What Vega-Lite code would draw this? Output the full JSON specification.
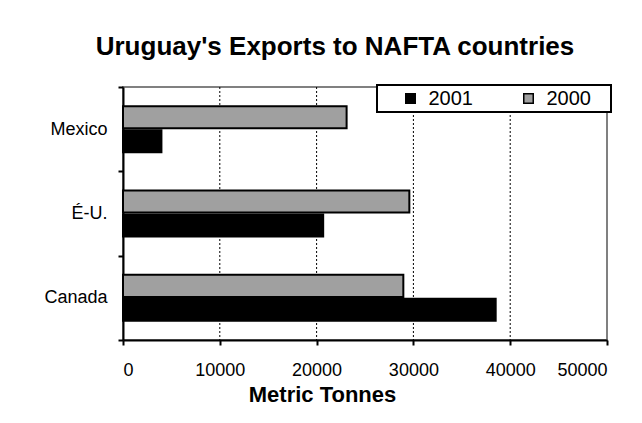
{
  "$schema": "https://vega.github.io/schema/vega-lite/v6.json",
  "width": 484,
  "height": 253,
  "autosize": {"type": "none"},
  "padding": {"left": 123, "top": 87, "right": 35, "bottom": 83},
  "background": "white",
  "title": {
    "text": "Uruguay's Exports to NAFTA countries",
    "font": "Liberation Sans",
    "fontSize": 26,
    "fontWeight": "bold",
    "color": "black",
    "anchor": "middle",
    "dx": -30,
    "offset": 18
  },
  "datasets": {
    "exports": [
      {"country": "Mexico", "year": "2000", "tonnes": 23100},
      {"country": "Mexico", "year": "2001", "tonnes": 3970},
      {"country": "É-U.", "year": "2000", "tonnes": 29580},
      {"country": "É-U.", "year": "2001", "tonnes": 20680},
      {"country": "Canada", "year": "2000", "tonnes": 28960},
      {"country": "Canada", "year": "2001", "tonnes": 38500}
    ],
    "gridlines": [
      {"tonnes": 10000},
      {"tonnes": 20000},
      {"tonnes": 30000},
      {"tonnes": 40000}
    ]
  },
  "layer": [
    {
      "data": {"name": "gridlines"},
      "mark": {"type": "rule", "color": "black", "strokeWidth": 1, "strokeDash": [2, 2]},
      "encoding": {
        "x": {"field": "tonnes", "type": "quantitative"}
      }
    },
    {
      "data": {"name": "exports"},
      "mark": {"type": "bar", "stroke": "black", "strokeWidth": 2},
      "encoding": {
        "y": {
          "field": "country",
          "type": "nominal",
          "sort": ["Mexico", "É-U.", "Canada"],
          "scale": {"paddingInner": 0, "paddingOuter": 0},
          "axis": {
            "title": null,
            "tickBand": "extent",
            "domainColor": "black",
            "domainWidth": 2,
            "tickColor": "black",
            "tickWidth": 2,
            "tickSize": 5,
            "labelFont": "Liberation Sans",
            "labelFontSize": 18,
            "labelColor": "black",
            "labelPadding": 11
          }
        },
        "yOffset": {
          "field": "year",
          "type": "nominal",
          "sort": ["2000", "2001"],
          "scale": {"paddingInner": 0.08, "paddingOuter": 0.8}
        },
        "x": {
          "field": "tonnes",
          "type": "quantitative",
          "scale": {"domain": [0, 50000], "nice": false},
          "axis": {
            "title": "Metric Tonnes",
            "titleFont": "Liberation Sans",
            "titleFontSize": 22,
            "titleFontWeight": "bold",
            "titleColor": "black",
            "titlePadding": 5,
            "titleX": 199,
            "titleAlign": "center",
            "values": [0, 10000, 20000, 30000, 40000, 50000],
            "format": "d",
            "grid": false,
            "domainColor": "black",
            "domainWidth": 2,
            "tickColor": "black",
            "tickWidth": 2,
            "tickSize": 5,
            "labelFont": "Liberation Sans",
            "labelFontSize": 18,
            "labelColor": "black",
            "labelPadding": 16
          }
        },
        "color": {
          "field": "year",
          "type": "nominal",
          "scale": {"domain": ["2001", "2000"], "range": ["black", "#A0A0A0"]},
          "legend": {
            "title": "\u00a0",
            "titleOrient": "right",
            "titlePadding": 17,
            "titleFontSize": 20,
            "orient": "none",
            "legendX": 254,
            "legendY": -2,
            "direction": "horizontal",
            "strokeColor": "black",
            "fillColor": "white",
            "padding": 3.5,
            "symbolOffset": 20,
            "symbolType": "square",
            "symbolSize": 90,
            "symbolStrokeColor": "black",
            "symbolStrokeWidth": 1.5,
            "symbolOpacity": 1,
            "labelFont": "Liberation Sans",
            "labelFontSize": 20,
            "labelColor": "black",
            "labelOffset": 8,
            "columnPadding": 25,
            "encode": {"legend": {"update": {"strokeWidth": {"value": 2}}}}
          }
        }
      }
    }
  ],
  "config": {
    "view": {"stroke": "#808080", "strokeWidth": 2}
  }
}
